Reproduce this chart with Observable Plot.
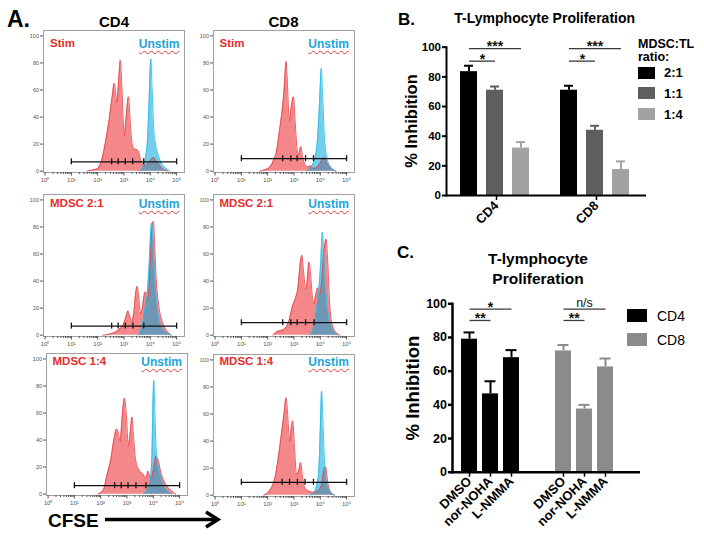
<!DOCTYPE html>
<html>
<head>
<meta charset="utf-8">
<script src="https://cdn.jsdelivr.net/npm/d3@7"></script>
<script src="https://cdn.jsdelivr.net/npm/@observablehq/plot@0.6"></script>
<style>
html,body{margin:0;padding:0;background:#fff;}
#fig{position:relative;width:704px;height:540px;overflow:hidden;background:#fff;}
#fig svg{position:absolute;overflow:visible;}
.t{position:absolute;white-space:nowrap;font-family:"Liberation Sans",Arial,Helvetica,sans-serif;}
.wavy{text-decoration-line:underline;text-decoration-style:wavy;text-decoration-color:#e0403a;text-decoration-thickness:0.6px;text-underline-offset:1.5px;}
</style>
</head>
<body>
<div id="fig"></div>
<script>
// ================= DATA =================
// Panel A: CFSE histograms. x = log10(CFSE), y = % of max
const decadeTicks = [0, 1, 2, 3, 4, 5];
const decadeLabels = ["10⁰", "10¹", "10²", "10³", "10⁴", "10⁵"];
const countTicks = [0, 20, 40, 60, 80, 100];
const columnTitles = ["CD4", "CD8"];
const rowLabels = ["Stim", "MDSC 2:1", "MDSC 1:4"];
const refLabel = "Unstim";

const cd4StimRed = [[1.6,0],[1.85,1],[2.0,2],[2.15,8],[2.3,22],[2.45,40],[2.55,55],[2.63,65],[2.68,58],[2.73,51],[2.8,68],[2.86,82],[2.92,62],[2.97,38],[3.01,26],[3.08,40],[3.17,55],[3.22,42],[3.28,25],[3.36,17],[3.45,16],[3.54,15],[3.64,8],[3.75,4],[3.88,5],[4.0,8],[4.12,10],[4.25,7],[4.45,2],[4.65,0]];
const cd4StimBlue = [[3.6,0],[3.72,3],[3.82,10],[3.9,25],[3.96,55],[4.02,83],[4.07,60],[4.13,32],[4.2,20],[4.3,12],[4.45,5],[4.6,2],[4.75,0]];
const cd4StimGate = [1.0,2.53,2.78,3.05,3.33,3.75,5.0];

const cd8StimRed = [[1.7,0],[1.9,1],[2.08,3],[2.22,8],[2.34,15],[2.45,30],[2.55,45],[2.63,62],[2.7,81],[2.75,65],[2.82,37],[2.9,48],[2.98,55],[3.04,38],[3.1,20],[3.17,12],[3.26,18],[3.33,10],[3.42,5],[3.52,3],[3.62,4],[3.74,2],[3.88,3],[4.02,7],[4.15,10],[4.25,6],[4.4,2],[4.57,0]];
const cd8StimBlue = [[3.5,0],[3.65,3],[3.8,10],[3.9,25],[3.97,50],[4.04,76],[4.09,55],[4.15,28],[4.25,10],[4.4,3],[4.6,0]];
const cd8StimGate = [1.0,2.57,2.88,3.12,3.44,3.74,5.0];

const cd4Mdsc21Red = [[2.2,0],[2.5,1],[2.8,4],[3.0,9],[3.1,15],[3.15,18],[3.22,14],[3.3,10],[3.38,18],[3.45,32],[3.5,36],[3.56,28],[3.63,16],[3.7,20],[3.77,30],[3.82,32],[3.88,25],[3.95,35],[4.02,65],[4.08,82],[4.12,84],[4.17,65],[4.23,40],[4.32,22],[4.45,10],[4.6,4],[4.8,0]];
const cd4Mdsc21Blue = [[3.55,0],[3.7,8],[3.8,20],[3.9,35],[3.97,58],[4.02,78],[4.05,83],[4.1,70],[4.18,40],[4.28,18],[4.4,7],[4.6,2],[4.8,0]];
const cd4Mdsc21Gate = [1.0,2.53,2.78,3.05,3.34,3.75,5.0];

const cd8Mdsc21Red = [[2.2,0],[2.4,3],[2.6,4],[2.8,10],[2.95,22],[3.05,27],[3.15,35],[3.25,55],[3.3,59],[3.36,48],[3.44,34],[3.5,40],[3.57,54],[3.63,45],[3.7,28],[3.75,23],[3.83,30],[3.9,35],[3.98,30],[4.05,40],[4.13,60],[4.22,71],[4.28,55],[4.35,25],[4.45,8],[4.6,2],[4.75,0]];
const cd8Mdsc21Blue = [[3.6,0],[3.75,6],[3.85,18],[3.95,35],[4.02,55],[4.08,76],[4.13,60],[4.2,35],[4.3,15],[4.45,5],[4.65,0]];
const cd8Mdsc21Gate = [1.0,2.57,2.88,3.12,3.44,3.76,5.0];

const cd4Mdsc14Red = [[1.9,0],[2.1,3],[2.25,15],[2.38,25],[2.5,40],[2.6,48],[2.66,46],[2.74,39],[2.82,58],[2.9,71],[2.97,60],[3.05,36],[3.12,45],[3.19,57],[3.25,42],[3.33,25],[3.45,18],[3.6,15],[3.72,12],[3.8,17],[3.86,14],[3.93,12],[4.0,18],[4.1,28],[4.17,26],[4.3,15],[4.45,8],[4.65,3],[4.85,0]];
const cd4Mdsc14Blue = [[3.65,0],[3.8,5],[3.88,10],[3.95,30],[3.99,70],[4.02,84],[4.06,60],[4.12,30],[4.22,18],[4.35,8],[4.5,3],[4.7,0]];
const cd4Mdsc14Gate = [1.0,2.53,2.78,3.04,3.34,3.72,5.0];

const cd8Mdsc14Red = [[1.85,0],[2.1,4],[2.3,15],[2.42,30],[2.52,45],[2.62,60],[2.7,72],[2.76,60],[2.83,40],[2.9,50],[2.95,55],[3.02,35],[3.1,15],[3.18,18],[3.25,24],[3.32,14],[3.4,6],[3.55,3],[3.75,2],[3.9,3],[4.05,8],[4.15,20],[4.2,21],[4.28,10],[4.4,2],[4.55,0]];
const cd8Mdsc14Blue = [[3.6,0],[3.75,2],[3.85,6],[3.95,20],[4.01,55],[4.05,77],[4.1,55],[4.16,25],[4.25,8],[4.4,2],[4.55,0]];
const cd8Mdsc14Gate = [1.0,2.55,2.83,3.13,3.42,3.74,5.0];

// gate bar level (% of max), order: r1c1, r1c2, r2c1, r2c2, r3c1, r3c2
const gateLevels = [6.9, 9.2, 6.7, 9.2, 6.3, 9.5];

// Panel B
const bCells = ["CD4", "CD8"];
const bRatios = ["2:1", "1:1", "1:4"];
const bColors = ["#000000", "#5e5e5e", "#a2a2a2"];
const bCD4Mean = [83.5, 71, 32];
const bCD4Sem = [4, 2.5, 4];
const bCD8Mean = [71, 44, 17.5];
const bCD8Sem = [3, 3, 5.5];
const bSigCell = ["CD4", "CD4", "CD8", "CD8"];
const bSigFrom = ["2:1", "2:1", "2:1", "2:1"];
const bSigTo = ["1:4", "1:1", "1:4", "1:1"];
const bSigLevel = [99, 90.6, 99, 90.6];
const bSigText = ["***", "*", "***", "*"];

// Panel C
const cCells = ["CD4", "CD8"];
const cTreatments = ["DMSO", "nor-NOHA", "L-NMMA"];
const cColors = ["#000000", "#8b8b8b"];
const cCD4Mean = [79, 46.5, 68];
const cCD4Sem = [4, 7.5, 4.5];
const cCD8Mean = [72, 37.5, 62.5];
const cCD8Sem = [3.5, 2.5, 5];
const cSigCell = ["CD4", "CD4", "CD8", "CD8"];
const cSigFrom = ["DMSO", "DMSO", "DMSO", "DMSO"];
const cSigTo = ["L-NMMA", "nor-NOHA", "L-NMMA", "nor-NOHA"];
const cSigLevel = [96.8, 90.1, 96.8, 90.1];
const cSigText = ["*", "**", "n/s", "**"];

// ================= LAYOUT / STYLE =================
const FONT = '"Liberation Sans", Arial, Helvetica, sans-serif';
const RED_FILL = "#f3878a", RED_LINE = "#e8474d";
const BLUE_FILL = "#00a4da", BLUE_LINE = "#2bbde6";
const fig = document.getElementById("fig");

function text(str, left, cy, size, opts = {}) {
  const d = document.createElement("div");
  d.className = "t" + (opts.cls ? " " + opts.cls : "");
  d.textContent = str;
  d.style.fontSize = size + "px";
  d.style.lineHeight = size + "px";
  d.style.fontWeight = opts.weight || "bold";
  d.style.color = opts.color || "#000";
  d.style.left = left + "px";
  d.style.top = (cy - size / 2) + "px";
  if (opts.anchor === "end") d.style.transform = "translateX(-100%)";
  if (opts.anchor === "middle") d.style.transform = "translateX(-50%)";
  if (opts.rotate) { d.style.top = cy + "px"; d.style.transform = "translate(-50%,-50%) rotate(-90deg)"; }
  fig.appendChild(d);
  return d;
}
function place(svg, left, top) {
  svg.style.left = left + "px";
  svg.style.top = top + "px";
  fig.appendChild(svg);
}

// ================= PANEL A =================
const minorTicks = [];
for (let d = 0; d < 6; d++) for (let k = 2; k <= 9; k++) { const v = d + Math.log10(k); if (v <= 5.3) minorTicks.push(v); }

const histPanels = [
  {row: 0, col: 0, red: cd4StimRed, blue: cd4StimBlue, gate: cd4StimGate},
  {row: 0, col: 1, red: cd8StimRed, blue: cd8StimBlue, gate: cd8StimGate},
  {row: 1, col: 0, red: cd4Mdsc21Red, blue: cd4Mdsc21Blue, gate: cd4Mdsc21Gate},
  {row: 1, col: 1, red: cd8Mdsc21Red, blue: cd8Mdsc21Blue, gate: cd8Mdsc21Gate},
  {row: 2, col: 0, red: cd4Mdsc14Red, blue: cd4Mdsc14Blue, gate: cd4Mdsc14Gate},
  {row: 2, col: 1, red: cd8Mdsc14Red, blue: cd8Mdsc14Blue, gate: cd8Mdsc14Gate},
];
const frameLefts = [[43, 212.5], [43, 212.5], [45.5, 212.5]];
const frameTops = [[30.3, 30.3], [193.6, 193.6], [352.6, 353.5]];
const labelCys = [43.8, 204, 361.5];
const FW = 141;

histPanels.forEach((p, i) => {
  const red = p.red.map(([x, y]) => ({x, y}));
  const blue = p.blue.map(([x, y]) => ({x, y}));
  const gy = gateLevels[i];
  const gate = p.gate.map(x => ({x, y: gy}));
  const span = [{x1: d3.min(p.gate), x2: d3.max(p.gate), y: gy}];
  const curve = "monotone-x";
  const svg = Plot.plot({
    width: 162, height: 161,
    marginLeft: 18, marginRight: 3, marginTop: 3, marginBottom: 16,
    x: {domain: [-0.06, 5.3]},
    y: {domain: [-1, 104]},
    style: {fontFamily: FONT, fontSize: "6px", background: "transparent", overflow: "visible"},
    marks: [
      Plot.areaY(red, {x: "x", y: "y", fill: RED_FILL, curve}),
      Plot.areaY(blue, {x: "x", y: "y", fill: BLUE_FILL, fillOpacity: 0.55, curve}),
      Plot.lineY(red, {x: "x", y: "y", stroke: RED_LINE, strokeWidth: 0.9, curve}),
      Plot.lineY(blue, {x: "x", y: "y", stroke: BLUE_LINE, strokeWidth: 0.9, curve}),
      Plot.ruleY(span, {x1: "x1", x2: "x2", y: "y", stroke: "#111", strokeWidth: 1.3}),
      Plot.ruleX(gate, {x: "x", y1: "y", y2: "y", insetTop: -3, insetBottom: -3, stroke: "#111", strokeWidth: 1.3}),
      Plot.frame({stroke: "#a0a0a0"}),
      Plot.axisX({ticks: decadeTicks, tickFormat: d => decadeLabels[d], tickSize: 3.5, tickPadding: 1.5, color: "#555", label: null}),
      Plot.axisX({ticks: minorTicks, tickFormat: () => "", tickSize: 2, color: "#555", label: null}),
      Plot.axisY({ticks: countTicks, tickSize: 3, tickPadding: 1.5, color: "#555", fontSize: 5.5, label: null})
    ]
  });
  const fl = frameLefts[p.row][p.col], ft = frameTops[p.row][p.col];
  place(svg, fl - 18, ft - 3);
  text(rowLabels[p.row], fl + 7, labelCys[p.row], 11.5, {color: "#e52d2d"});
  text(refLabel, fl + FW - 4.5, labelCys[p.row], 12, {color: "#1ca6d8", anchor: "end", cls: "wavy"});
});

text("A.", 7, 19, 23);
text(columnTitles[0], 114, 21, 15, {anchor: "middle"});
text(columnTitles[1], 283.5, 21, 15, {anchor: "middle"});
text("CFSE", 48, 520, 19);
{
  const ns = "http://www.w3.org/2000/svg";
  const a = document.createElementNS(ns, "svg");
  a.setAttribute("width", 125); a.setAttribute("height", 24);
  a.innerHTML = '<line x1="5" y1="11.5" x2="116" y2="11.5" stroke="#000" stroke-width="3.5"/><polyline points="106,4 118,11.5 106,19" fill="none" stroke="#000" stroke-width="3.5" stroke-linejoin="miter"/>';
  place(a, 100, 508);
}

// ================= significance helpers =================
function sigMarks(sig, domain, halfStep, size) {
  const rows = sig.map(s => {
    const a = domain.indexOf(s.from), b = domain.indexOf(s.to), m = (a + b) / 2;
    return {...s, at: domain[Math.floor(m)], half: m % 1 !== 0, star: /^\*+$/.test(s.text)};
  });
  const common = {fx: "cell", x: "at", y: "y", text: "text", fill: "#111"};
  return [
    Plot.link(rows, {fx: "cell", x1: "from", x2: "to", y1: "y", y2: "y", stroke: "#3a3a3a", strokeWidth: 1.3}),
    Plot.text(rows.filter(d => d.star && !d.half), {...common, dy: -2, fontSize: size, fontWeight: "bold"}),
    Plot.text(rows.filter(d => d.star && d.half), {...common, dx: halfStep, dy: -2, fontSize: size, fontWeight: "bold"}),
    Plot.text(rows.filter(d => !d.star), {...common, dy: -6, fontSize: size - 1.5, fontWeight: "normal"})
  ];
}

// ================= PANEL B =================
const bData = bCells.flatMap(cell => bRatios.map((ratio, i) => ({
  cell, ratio,
  mean: (cell === "CD4" ? bCD4Mean : bCD8Mean)[i],
  sem: (cell === "CD4" ? bCD4Sem : bCD8Sem)[i]
})));
const bSig = bSigCell.map((cell, i) => ({cell, from: bSigFrom[i], to: bSigTo[i], y: bSigLevel[i], text: bSigText[i]}));

const plotB = Plot.plot({
  width: 280, height: 200,
  marginLeft: 66, marginRight: 14, marginTop: 16.7, marginBottom: 35,
  style: {fontFamily: FONT, fontWeight: "bold", fontSize: "11.5px", color: "#000", background: "transparent", overflow: "visible"},
  fx: {domain: bCells, padding: 0, label: null},
  x: {domain: bRatios, paddingInner: 1 / 3, paddingOuter: 0.52, align: 0.46, axis: null},
  y: {domain: [0, 100], label: null},
  color: {domain: bRatios, range: bColors},
  marks: [
    Plot.ruleX(bData, {fx: "cell", x: "ratio", y1: "mean", y2: d => d.mean + d.sem, stroke: "ratio", strokeWidth: 2}),
    Plot.tickY(bData, {fx: "cell", x: "ratio", y: d => d.mean + d.sem, stroke: "ratio", strokeWidth: 2, insetLeft: 4, insetRight: 4}),
    Plot.barY(bData, {fx: "cell", x: "ratio", y: "mean", fill: "ratio"}),
    ...sigMarks(bSig, bRatios, 13.5, 14),
    Plot.ruleY([0], {strokeWidth: 2}),
    Plot.frame({anchor: "left", facetAnchor: "left", strokeWidth: 2}),
    Plot.axisY({ticks: [0, 20, 40, 60, 80, 100], tickSize: 4, tickPadding: 1.5, strokeWidth: 2, label: null}),
    Plot.axisFx({anchor: "bottom", tickRotate: -45, tickSize: 5, tickPadding: 3, strokeWidth: 1.5, fontSize: 13, label: null})
  ]
});
place(plotB, 380, 30);

text("B.", 398, 19, 17);
text("T-Lymphocyte Proliferation", 544.7, 18, 14, {anchor: "middle"});
text("% Inhibition", 411, 121, 16.5, {rotate: true});
text("MDSC:TL", 638, 43.8, 12.5);
text("ratio:", 638, 57.5, 12.5);
const bLegendCy = [72.5, 93, 114];
bRatios.forEach((r, i) => {
  const sw = document.createElement("div");
  sw.style.cssText = `position:absolute;left:638px;top:${bLegendCy[i] - 6}px;width:17px;height:12px;background:${bColors[i]};`;
  fig.appendChild(sw);
  text(r, 664, bLegendCy[i], 13);
});

// ================= PANEL C =================
const cData = cCells.flatMap(cell => cTreatments.map((t, i) => ({
  cell, treatment: t,
  mean: (cell === "CD4" ? cCD4Mean : cCD8Mean)[i],
  sem: (cell === "CD4" ? cCD4Sem : cCD8Sem)[i]
})));
const cSig = cSigCell.map((cell, i) => ({cell, from: cSigFrom[i], to: cSigTo[i], y: cSigLevel[i], text: cSigText[i]}));

const plotC = Plot.plot({
  width: 270, height: 250,
  marginLeft: 72, marginRight: 10, marginTop: 13.3, marginBottom: 68.3,
  style: {fontFamily: FONT, fontWeight: "bold", fontSize: "12.5px", color: "#000", background: "transparent", overflow: "visible"},
  fx: {domain: cCells, padding: 0, axis: null, label: null},
  x: {domain: cTreatments, paddingInner: 0.233, paddingOuter: 0.8, align: 0.26, label: null},
  y: {domain: [0, 100], label: null},
  color: {domain: cCells, range: cColors},
  marks: [
    Plot.ruleX(cData, {fx: "cell", x: "treatment", y1: "mean", y2: d => d.mean + d.sem, stroke: "cell", strokeWidth: 2}),
    Plot.tickY(cData, {fx: "cell", x: "treatment", y: d => d.mean + d.sem, stroke: "cell", strokeWidth: 2, insetLeft: 2.5, insetRight: 2.5}),
    Plot.barY(cData, {fx: "cell", x: "treatment", y: "mean", fill: "cell"}),
    ...sigMarks(cSig, cTreatments, 10.75, 14),
    Plot.ruleY([0], {strokeWidth: 2.5}),
    Plot.frame({anchor: "left", facetAnchor: "left", strokeWidth: 2.5}),
    Plot.axisY({ticks: [0, 20, 40, 60, 80, 100], tickSize: 4, tickPadding: 1.5, strokeWidth: 2.5, label: null}),
    Plot.axisX({tickRotate: -45, tickSize: 5, tickPadding: 2, strokeWidth: 1.5, fontSize: 13, label: null})
  ]
});
place(plotC, 380, 290);

text("C.", 397, 252.5, 17);
text("T-lymphocyte", 538, 258.5, 15.5, {anchor: "middle"});
text("Proliferation", 538, 279, 15.5, {anchor: "middle"});
text("% Inhibition", 413, 388, 18.5, {rotate: true});
const cLegendCy = [315.5, 339.5];
cCells.forEach((c, i) => {
  const sw = document.createElement("div");
  sw.style.cssText = `position:absolute;left:627px;top:${cLegendCy[i] - 6.5}px;width:20px;height:13px;background:${cColors[i]};`;
  fig.appendChild(sw);
  text(c, 657, cLegendCy[i], 14, {weight: "normal"});
});
</script>
</body>
</html>
